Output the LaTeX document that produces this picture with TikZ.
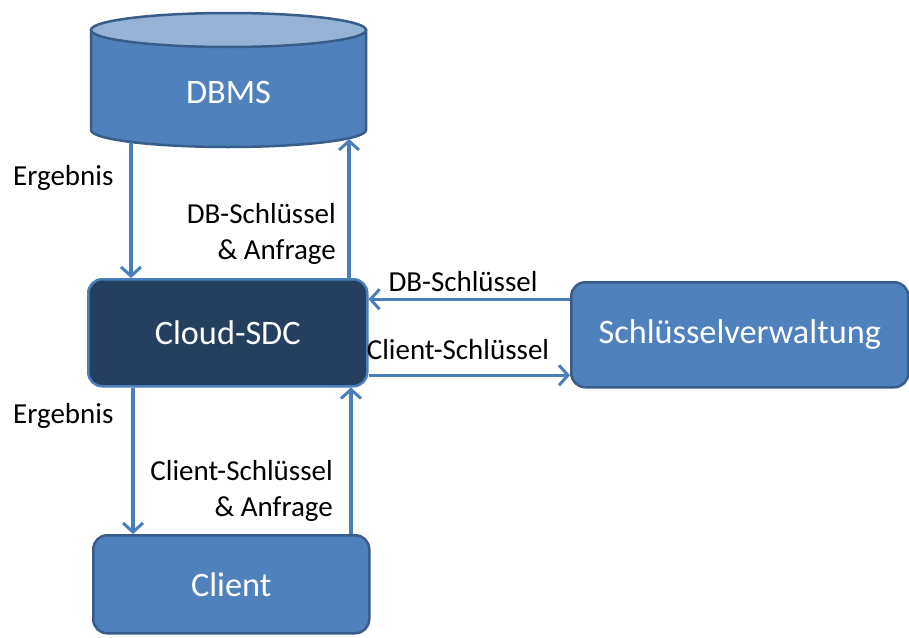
\documentclass[tikz,border=0pt]{standalone}
\usepackage{fontspec}
\setmainfont{Carlito}
\usetikzlibrary{arrows.meta}
\definecolor{boxfill}{HTML}{4F81BD}
\definecolor{boxedge}{HTML}{385D8A}
\definecolor{topfill}{HTML}{95B3D7}
\definecolor{darkfill}{HTML}{243F60}
\definecolor{darkedge}{HTML}{4A7EBB}
\definecolor{arrowc}{HTML}{4A7EBB}
\begin{document}
\begin{tikzpicture}[x=1pt,y=-1pt,
  box/.style={draw=boxedge, fill=boxfill, line width=2.5pt, rounded corners=14pt,
    text=white, font=\fontsize{34.3}{40}\selectfont, anchor=north west, inner sep=0pt},
  lab/.style={font=\fontsize{29}{35.5}\selectfont, text=black, inner sep=0pt},
  flow/.style={draw=arrowc, line width=3.5pt,
    -{Straight Barb[length=9pt,width=20pt,line width=3pt]}}]
\useasboundingbox (0,0) rectangle (909,637);

% DBMS cylinder
\filldraw[fill=boxfill, draw=boxedge, line width=2.5pt]
  (91,30) -- (91,130) arc[start angle=180, end angle=360, x radius=137.5pt, y radius=17pt]
  -- (366,30) -- cycle;
\filldraw[fill=topfill, draw=boxedge, line width=2.5pt]
  (228.5,30) ellipse [x radius=137.5pt, y radius=17pt];
\node[text=white, font=\fontsize{34.3}{40}\selectfont] (dbms) at (228.5,92) {DBMS};
\coordinate (dbA) at (131,142);
\coordinate (dbB) at (349,139);

% boxes
\node[box, fill=darkfill, draw=darkedge, minimum width=279pt, minimum height=107pt] (cloud) at (87,278) {Cloud-SDC};
\node[box, minimum width=337pt, minimum height=105pt] (keys) at (570,281) {Schlüsselverwaltung};
\node[box, minimum width=276pt, minimum height=98pt] (client) at (92,534) {Client};

% vertical arrows top
\draw[flow] (dbA) -- (dbA |- cloud.north);
\draw[flow] (dbB |- cloud.north) -- (dbB);

% horizontal arrows
\coordinate (k1) at ([yshift=35.5pt]keys.west);
\coordinate (k2) at ([yshift=-42.5pt]cloud.east);
\draw[flow] (k1) -- (k1 -| cloud.east);
\draw[flow] (k2) -- (k2 -| keys.west);

% vertical arrows bottom
\coordinate (cA) at (133,0);
\coordinate (cB) at (351,0);
\draw[flow] (cloud.south -| cA) -- (client.north -| cA);
\draw[flow] (client.north -| cB) -- (cloud.south -| cB);

% labels
\node[lab, anchor=west] (e1) at (13,178) {Ergebnis};
\node[lab, anchor=east, align=right] (q1) at (336,234) {DB-Schlüssel\\\& Anfrage};
\node[lab] (l1) at (463,282) {DB-Schlüssel};
\node[lab] (l2) at (458,350) {Client-Schlüssel};
\node[lab, anchor=west] (e2) at (13,416) {Ergebnis};
\node[lab, anchor=east, align=right] (q2) at (333,491) {Client-Schlüssel\\\& Anfrage};
\end{tikzpicture}
\end{document}
